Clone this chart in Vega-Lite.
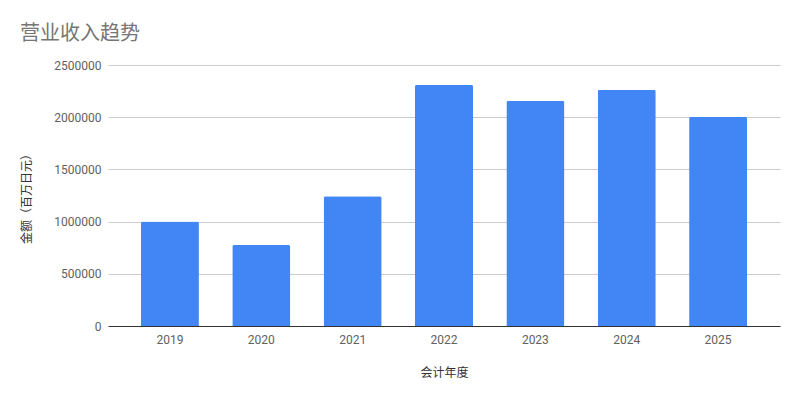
{
  "$schema": "https://vega.github.io/schema/vega-lite/v6.json",
  "autosize": {"type": "none"},
  "width": 672,
  "height": 261,
  "padding": {"left": 108, "top": 65, "right": 20, "bottom": 74},
  "title": {
    "text": "营业收入趋势",
    "anchor": "start",
    "frame": "group",
    "dx": -88,
    "offset": 15,
    "fontSize": 20,
    "fontWeight": "normal",
    "color": "#757575",
    "font": "Roboto, Noto Sans CJK SC"
  },
  "data": {
    "values": [
      {"year": "2019", "amount": 1000000},
      {"year": "2020", "amount": 776000},
      {"year": "2021", "amount": 1243000},
      {"year": "2022", "amount": 2310000},
      {"year": "2023", "amount": 2157000},
      {"year": "2024", "amount": 2262000},
      {"year": "2025", "amount": 2005000}
    ]
  },
  "mark": {"type": "bar", "color": "#4285F4", "cornerRadiusTopLeft": 2, "cornerRadiusTopRight": 2},
  "encoding": {
    "x": {
      "field": "year",
      "type": "ordinal",
      "title": "会计年度",
      "scale": {"paddingInner": 0.365, "paddingOuter": 0.36},
      "axis": {
        "labelAngle": 0,
        "ticks": false,
        "labelPadding": 8,
        "titlePadding": 22,
        "domainColor": "#333333"
      }
    },
    "y": {
      "field": "amount",
      "type": "quantitative",
      "title": "金额（百万日元）",
      "scale": {"domain": [0, 2500000], "nice": false},
      "axis": {
        "values": [0, 500000, 1000000, 1500000, 2000000, 2500000],
        "format": "d",
        "domain": false,
        "ticks": false,
        "labelPadding": 7,
        "titlePadding": 20,
        "gridColor": "#cccccc"
      }
    }
  },
  "config": {
    "view": {"stroke": null},
    "axis": {
      "labelFont": "Roboto, Noto Sans CJK SC",
      "titleFont": "Roboto, Noto Sans CJK SC",
      "labelFontSize": 12,
      "titleFontSize": 12,
      "titleFontWeight": "normal",
      "labelColor": "#616161",
      "titleColor": "#333333"
    }
  }
}
